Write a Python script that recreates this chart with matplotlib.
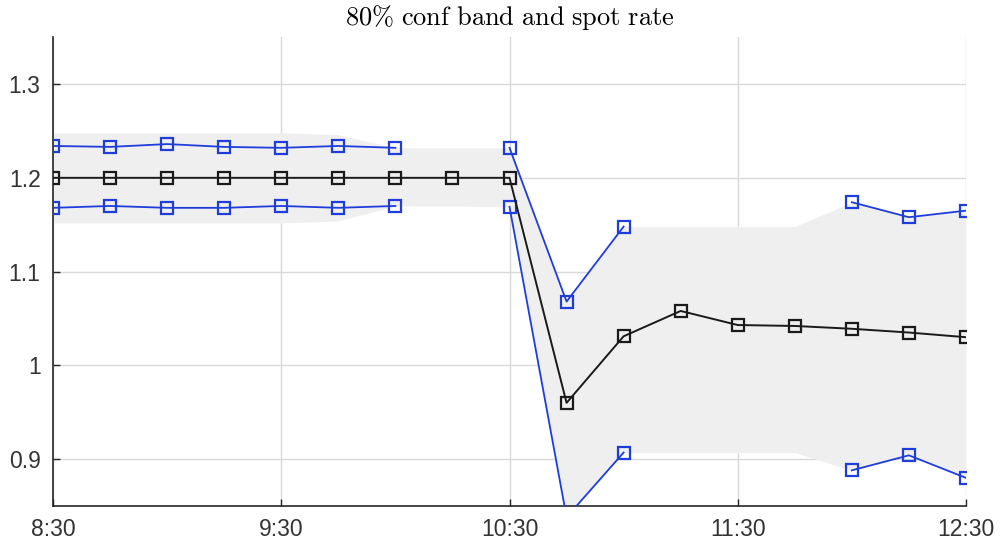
import numpy as np
import matplotlib
matplotlib.use('Agg')
import matplotlib.pyplot as plt

# 15 minute grid from 8:30 to 12:30
times = ['8:30', '8:45', '9:00', '9:15', '9:30', '9:45', '10:00', '10:15', '10:30',
         '10:45', '11:00', '11:15', '11:30', '11:45', '12:00', '12:15', '12:30']

spot = [1.200, 1.200, 1.200, 1.200, 1.200, 1.200, 1.200, 1.200, 1.200,
        0.960, 1.031, 1.058, 1.043, 1.042, 1.039, 1.035, 1.030]

upper = [1.234, 1.233, 1.236, 1.233, 1.232, 1.234, 1.232, np.nan, 1.232,
         1.068, 1.148, np.nan, np.nan, np.nan, 1.174, 1.158, 1.165]

lower = [1.168, 1.170, 1.168, 1.168, 1.170, 1.168, 1.170, np.nan, 1.169,
         0.838, 0.907, np.nan, np.nan, np.nan, 0.888, 0.904, 0.880]

# grey band (missing quotes carried forward)
band_hi = [1.248, 1.248, 1.248, 1.248, 1.248, 1.246, 1.232, 1.232, 1.232,
           1.068, 1.148, 1.148, 1.148, 1.148, 1.174, 1.158, 1.165]
band_lo = [1.152, 1.152, 1.152, 1.152, 1.152, 1.154, 1.170, 1.170, 1.169,
           0.838, 0.907, 0.907, 0.907, 0.907, 0.888, 0.904, 0.880]

tick_labels = ['8:30', '9:30', '10:30', '11:30', '12:30']


def to_hours(t):
    h, m = t.split(':')
    return int(h) + int(m) / 60.0


x = np.array([to_hours(t) for t in times])
xt = [to_hours(t) for t in tick_labels]

plt.rcParams['font.family'] = ['Liberation Sans', 'DejaVu Sans']
plt.rcParams['mathtext.fontset'] = 'cm'

fig = plt.figure(figsize=(10.02, 5.47), dpi=100)
ax = fig.add_axes([0.053, 0.075, 0.911, 0.857])

ax.fill_between(x, band_lo, band_hi, color='#efefef', linewidth=0, zorder=1)

blue = '#1f3ddb'
mk = dict(marker='s', markersize=8, markerfacecolor='none', markeredgewidth=1.6)
ax.plot(x, upper, color=blue, linewidth=1.3, markeredgecolor=blue, zorder=3, **mk)
ax.plot(x, lower, color=blue, linewidth=1.3, markeredgecolor=blue, zorder=3, **mk)
ax.plot(x, spot, color='#1a1a1a', linewidth=1.4, markeredgecolor='#1a1a1a', zorder=4, **mk)

ax.set_xlim(x[0], x[-1])
ax.set_ylim(0.85, 1.35)
ax.set_xticks(xt)
ax.set_xticklabels(tick_labels)
ax.set_yticks([0.9, 1.0, 1.1, 1.2, 1.3])
ax.set_yticklabels(['0.9', '1', '1.1', '1.2', '1.3'])

ax.grid(True, color='#d9d9d9', linewidth=1.0, zorder=0)
ax.set_axisbelow(True)
for s in ['top', 'right']:
    ax.spines[s].set_visible(False)
for s in ['left', 'bottom']:
    ax.spines[s].set_color('#262626')
    ax.spines[s].set_linewidth(1.2)
ax.tick_params(direction='in', length=5, width=1.0, color='#262626',
               labelsize=16.5, labelcolor='#333333', pad=9)
ax.tick_params(axis='x', pad=9)

ax.set_title(r'$\mathrm{80\%\ conf\ band\ and\ spot\ rate}$', fontsize=19, pad=9)

plt.savefig('out.png', dpi=100)
